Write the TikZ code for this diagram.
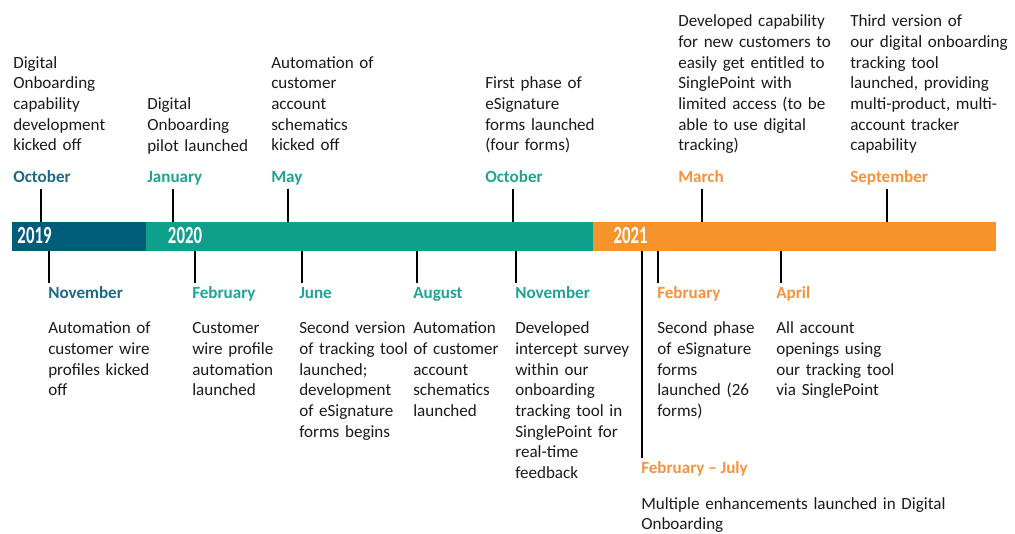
\documentclass[tikz,border=0pt]{standalone}
\usepackage{fontspec}
\setmainfont{Carlito}
\usetikzlibrary{positioning}

% bar and caption colours
\definecolor{bar19}{HTML}{005D7A}
\definecolor{bar20}{HTML}{0FA08B}
\definecolor{bar21}{HTML}{F7932B}
\definecolor{label19}{HTML}{1B6A87}
\definecolor{label20}{HTML}{1FA394}
\definecolor{label21}{HTML}{F7913A}
\definecolor{ink}{HTML}{1A1A1A}

\begin{document}
\begin{tikzpicture}[
    x=0.75pt, y=-0.75pt,
    font=\fontsize{12.8}{15.5}\selectfont,
    text=ink,
    % bar pieces (outline in the fill colour closes the seams) and year captions
    yearbar/.style={rectangle, inner sep=0pt, outer sep=0pt, draw=#1, fill=#1, line width=0.5pt, minimum height=21.25pt},
    year/.style={text=white, inner sep=0pt, font=\fontsize{18.5}{18.5}\selectfont\bfseries},
    % month captions and the notes over / under them
    month/.style={inner sep=0pt, anchor=base west, font=\fontsize{12.8}{15.5}\selectfont\bfseries},
    event/.style={inner sep=0pt, anchor=base west, align=left, text width=4.6cm},
    tickline/.style={draw=black, line width=0.9pt}
]
\useasboundingbox (0,0) rectangle (1015,534);

% --- Bar ---
\node [yearbar=bar19, anchor=north west, minimum width=100.25pt] (bar19) at (12.33,222.33) {};
\node [yearbar=bar20, minimum width=335.25pt, right=0pt of bar19] (bar20) {};
\node [yearbar=bar21, minimum width=302pt, right=0pt of bar20] (bar21) {};

\node [year] (y19) at (34.5,235.5) {\scalebox{0.68}[1]{2019}};
\node [year] (y20) at (185,235.5) {\scalebox{0.68}[1]{2020}};
\node [year] (y21) at (630.5,235.5) {\scalebox{0.68}[1]{2021}};

% --- Above the bar ---
\node [month, text=label19] (m-oct19) at (13,183) {October};
\node [event] (e-oct19) at (13,68.3) {Digital\\Onboarding\\capability\\development\\kicked off};

\node [month, text=label20] (m-jan20) at (147,183) {January};
\node [event] (e-jan20) at (147,109.7) {Digital\\Onboarding\\pilot launched};

\node [month, text=label20] (m-may20) at (271,183) {May};
\node [event] (e-may20) at (271,68.3) {Automation of\\customer\\account\\schematics\\kicked off};

\node [month, text=label20] (m-oct20) at (485,183) {October};
\node [event] (e-oct20) at (485,89) {First phase of\\eSignature\\forms launched\\(four forms)};

\node [month, text=label21] (m-mar21) at (678,183) {March};
\node [event] (e-mar21) at (678,27) {Developed capability\\for new customers to\\easily get entitled to\\SinglePoint with\\limited access (to be\\able to use digital\\tracking)};

\node [month, text=label21] (m-sep21) at (850,183) {September};
\node [event] (e-sep21) at (850,27) {Third version of\\our digital onboarding\\tracking tool\\launched, providing\\multi-product, multi-\\account tracker\\capability};

% --- Below the bar ---
\node [month, text=label19] (m-nov19) at (48,299) {November};
\node [event] (e-nov19) at (48,334) {Automation of\\customer wire\\profiles kicked\\off};

\node [month, text=label20] (m-feb20) at (192,299) {February};
\node [event] (e-feb20) at (192,334) {Customer\\wire profile\\automation\\launched};

\node [month, text=label20] (m-jun20) at (299,299) {June};
\node [event] (e-jun20) at (299,334) {Second version\\of tracking tool\\launched;\\development\\of eSignature\\forms begins};

\node [month, text=label20] (m-aug20) at (413,299) {August};
\node [event] (e-aug20) at (413,334) {Automation\\of customer\\account\\schematics\\launched};

\node [month, text=label20] (m-nov20) at (515,299) {November};
\node [event] (e-nov20) at (515,334) {Developed\\intercept survey\\within our\\onboarding\\tracking tool in\\SinglePoint for\\real-time\\feedback};

\node [month, text=label21] (m-feb21) at (657,299) {February};
\node [event] (e-feb21) at (657,334) {Second phase\\of eSignature\\forms\\launched (26\\forms)};

\node [month, text=label21] (m-apr21) at (776,299) {April};
\node [event] (e-apr21) at (776,334) {All account\\openings using\\our tracking tool\\via SinglePoint};

\node [month, text=label21] (m-span21) at (641,474) {February – July};
\node [event, text width=9cm] (e-span21) at (641,509.3) {Multiple enhancements launched in Digital\\Onboarding};

% --- Ticks ---
\coordinate (k-oct19) at (41,189);
\coordinate (k-jan20) at (173,189);
\coordinate (k-may20) at (288,189);
\coordinate (k-oct20) at (513,189);
\coordinate (k-mar21) at (702,189);
\coordinate (k-sep21) at (887,189);
\coordinate (k-nov19) at (49,283);
\coordinate (k-feb20) at (195,283);
\coordinate (k-jun20) at (302,283);
\coordinate (k-aug20) at (417,283);
\coordinate (k-nov20) at (516,283);
\coordinate (k-feb21) at (658,283);
\coordinate (k-apr21) at (781,283);
\coordinate (k-span21) at (642,458);

\foreach \k in {oct19, jan20, may20, oct20, mar21, sep21}
    \draw [tickline] (k-\k) -- (k-\k |- bar19.north);
\foreach \k in {nov19, feb20, jun20, aug20, nov20, feb21, apr21, span21}
    \draw [tickline] (k-\k) -- (k-\k |- bar19.south);

\end{tikzpicture}
\end{document}
